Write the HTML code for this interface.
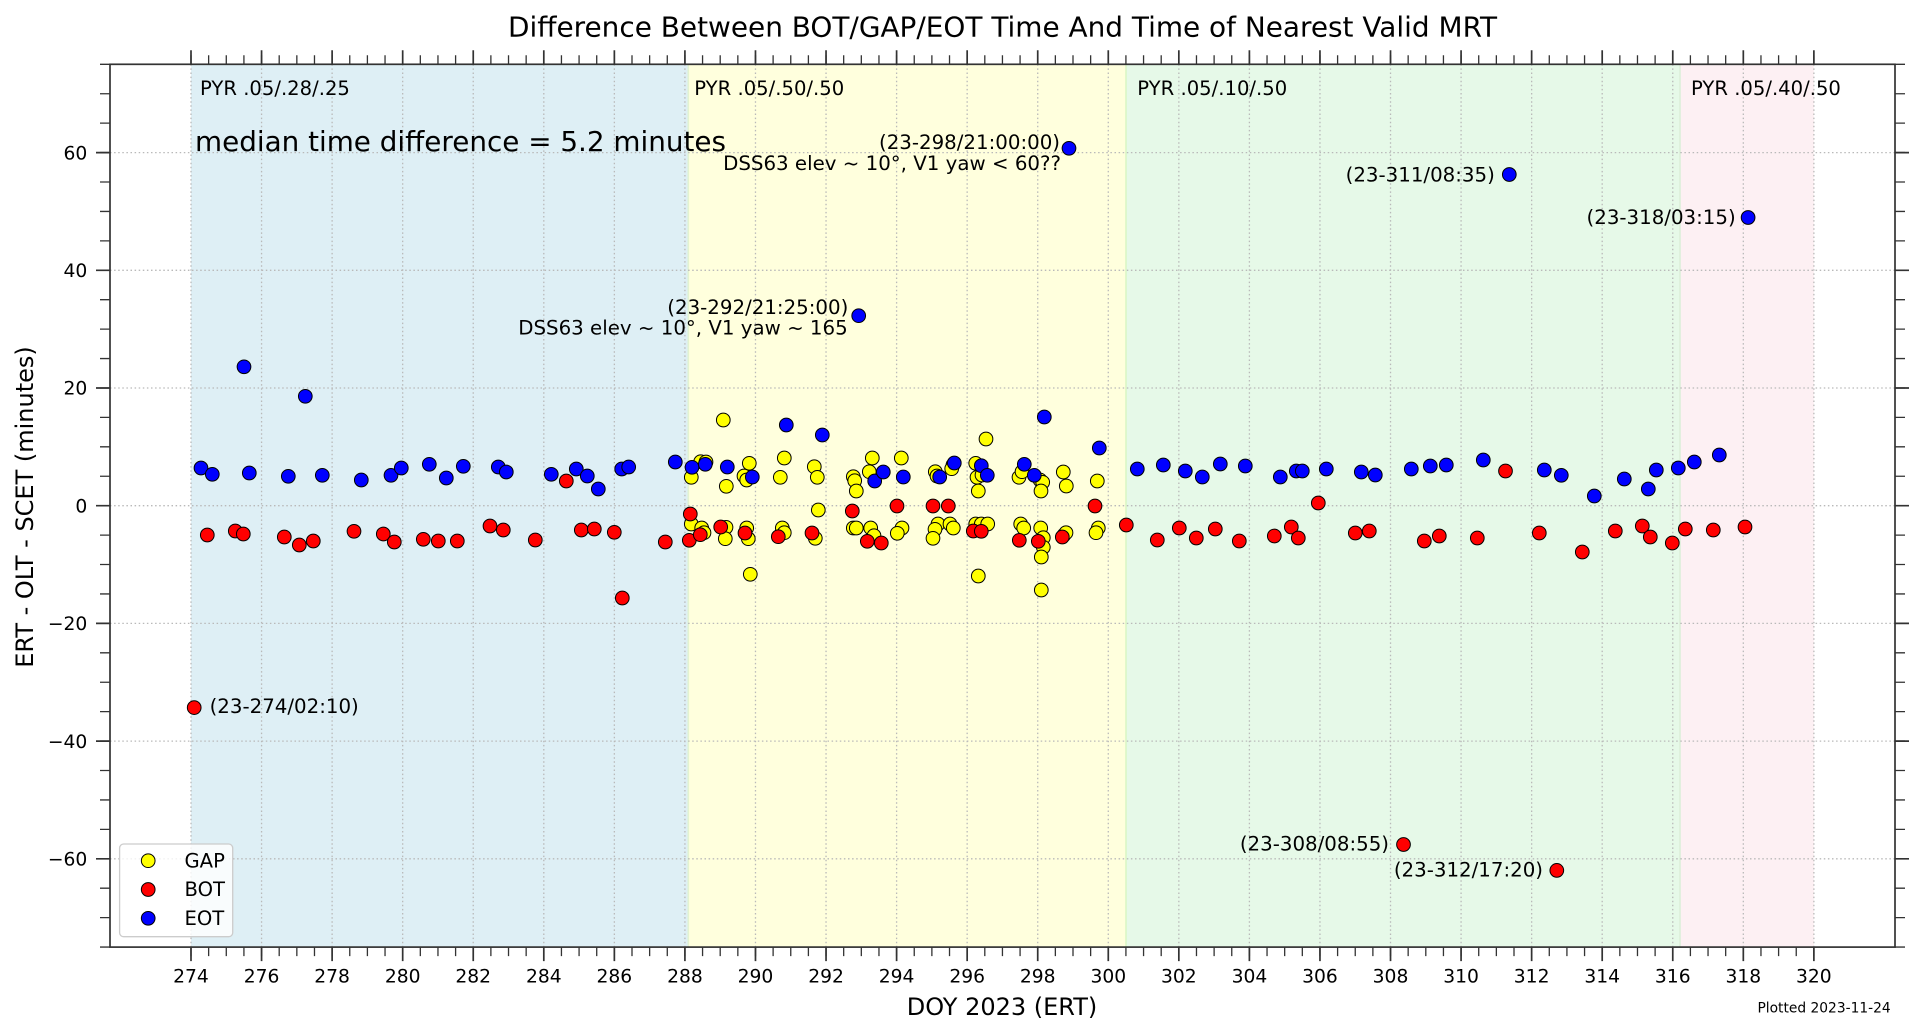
<!DOCTYPE html>
<html>
<head>
<meta charset="utf-8">
<style>
html,body{margin:0;padding:0;background:#fff;}
svg{display:block;}
text{font-family:"DejaVu Sans","Liberation Sans",sans-serif;fill:#000;}
</style>
</head>
<body>
<svg width="1923" height="1033" viewBox="0 0 1923 1033" xmlns="http://www.w3.org/2000/svg">
<rect x="0" y="0" width="1923" height="1033" fill="#fff"/>

<!-- spans -->
<rect x="191" y="64.3" width="497.3" height="882.8" fill="#deeff5"/>
<rect x="688.3" y="64.3" width="437.7" height="882.8" fill="#ffffdd"/>
<rect x="1126" y="64.3" width="554" height="882.8" fill="#e6f9e8"/>
<rect x="1680" y="64.3" width="133.9" height="882.8" fill="#fdf0f3"/>
<line x1="688.3" y1="64.3" x2="688.3" y2="947.1" stroke="#e2f3d2" stroke-width="1.6"/>
<line x1="1126" y1="64.3" x2="1126" y2="947.1" stroke="#daf6c6" stroke-width="1.6"/>
<line x1="1680" y1="64.3" x2="1680" y2="947.1" stroke="#dcefd9" stroke-width="1.6"/>

<!-- grid -->
<g stroke="#b9b9b9" stroke-width="1.3" stroke-dasharray="1.5 2.6" fill="none">
<line x1="191" y1="64.3" x2="191" y2="947.1"/>
<line x1="261.56" y1="64.3" x2="261.56" y2="947.1"/>
<line x1="332.12" y1="64.3" x2="332.12" y2="947.1"/>
<line x1="402.68" y1="64.3" x2="402.68" y2="947.1"/>
<line x1="473.24" y1="64.3" x2="473.24" y2="947.1"/>
<line x1="543.8" y1="64.3" x2="543.8" y2="947.1"/>
<line x1="614.36" y1="64.3" x2="614.36" y2="947.1"/>
<line x1="684.92" y1="64.3" x2="684.92" y2="947.1"/>
<line x1="755.48" y1="64.3" x2="755.48" y2="947.1"/>
<line x1="826.04" y1="64.3" x2="826.04" y2="947.1"/>
<line x1="896.6" y1="64.3" x2="896.6" y2="947.1"/>
<line x1="967.16" y1="64.3" x2="967.16" y2="947.1"/>
<line x1="1037.72" y1="64.3" x2="1037.72" y2="947.1"/>
<line x1="1108.28" y1="64.3" x2="1108.28" y2="947.1"/>
<line x1="1178.84" y1="64.3" x2="1178.84" y2="947.1"/>
<line x1="1249.4" y1="64.3" x2="1249.4" y2="947.1"/>
<line x1="1319.96" y1="64.3" x2="1319.96" y2="947.1"/>
<line x1="1390.52" y1="64.3" x2="1390.52" y2="947.1"/>
<line x1="1461.08" y1="64.3" x2="1461.08" y2="947.1"/>
<line x1="1531.64" y1="64.3" x2="1531.64" y2="947.1"/>
<line x1="1602.2" y1="64.3" x2="1602.2" y2="947.1"/>
<line x1="1672.76" y1="64.3" x2="1672.76" y2="947.1"/>
<line x1="1743.32" y1="64.3" x2="1743.32" y2="947.1"/>
<line x1="1813.88" y1="64.3" x2="1813.88" y2="947.1"/>
<line x1="110" y1="152.6" x2="1895" y2="152.6"/>
<line x1="110" y1="270.3" x2="1895" y2="270.3"/>
<line x1="110" y1="388" x2="1895" y2="388"/>
<line x1="110" y1="505.7" x2="1895" y2="505.7"/>
<line x1="110" y1="623.4" x2="1895" y2="623.4"/>
<line x1="110" y1="741.1" x2="1895" y2="741.1"/>
<line x1="110" y1="858.8" x2="1895" y2="858.8"/>
</g>

<!-- span labels -->
<g font-size="19.6">
<text x="200" y="95">PYR .05/.28/.25</text>
<text x="694.3" y="95">PYR .05/.50/.50</text>
<text x="1137.3" y="95">PYR .05/.10/.50</text>
<text x="1691" y="95">PYR .05/.40/.50</text>
</g>
<text x="195" y="151" font-size="27.7" textLength="531" lengthAdjust="spacingAndGlyphs">median time difference = 5.2 minutes</text>

<!-- GAP (yellow) -->
<g fill="#ffff00" stroke="#000" stroke-width="1">
<circle cx="723.3" cy="420" r="6.85"/>
<circle cx="691.3" cy="477.3" r="6.85"/>
<circle cx="700.7" cy="461.7" r="6.85"/>
<circle cx="706" cy="462" r="6.85"/>
<circle cx="726.3" cy="486.3" r="6.85"/>
<circle cx="749.3" cy="463.3" r="6.85"/>
<circle cx="744" cy="476" r="6.85"/>
<circle cx="746.7" cy="480" r="6.85"/>
<circle cx="784.3" cy="458" r="6.85"/>
<circle cx="780.3" cy="477.3" r="6.85"/>
<circle cx="814.3" cy="466.7" r="6.85"/>
<circle cx="817.3" cy="477.3" r="6.85"/>
<circle cx="818.3" cy="510" r="6.85"/>
<circle cx="853.3" cy="476.7" r="6.85"/>
<circle cx="854.7" cy="480.7" r="6.85"/>
<circle cx="856.3" cy="491" r="6.85"/>
<circle cx="872.3" cy="458" r="6.85"/>
<circle cx="869.3" cy="471.7" r="6.85"/>
<circle cx="901.3" cy="458" r="6.85"/>
<circle cx="935.3" cy="471.7" r="6.85"/>
<circle cx="937" cy="476" r="6.85"/>
<circle cx="953" cy="465" r="6.85"/>
<circle cx="951.7" cy="468.7" r="6.85"/>
<circle cx="975.7" cy="463.3" r="6.85"/>
<circle cx="986" cy="439" r="6.85"/>
<circle cx="977" cy="477.3" r="6.85"/>
<circle cx="982" cy="475" r="6.85"/>
<circle cx="978.3" cy="491" r="6.85"/>
<circle cx="1019" cy="477.3" r="6.85"/>
<circle cx="1022" cy="471.7" r="6.85"/>
<circle cx="1040" cy="480" r="6.85"/>
<circle cx="1042.7" cy="482.3" r="6.85"/>
<circle cx="1041" cy="491" r="6.85"/>
<circle cx="1063.3" cy="472" r="6.85"/>
<circle cx="1066.3" cy="486" r="6.85"/>
<circle cx="1097.3" cy="481" r="6.85"/>
<circle cx="691.3" cy="524" r="6.85"/>
<circle cx="701.7" cy="528" r="6.85"/>
<circle cx="704" cy="532.7" r="6.85"/>
<circle cx="726" cy="527.3" r="6.85"/>
<circle cx="725.3" cy="538.7" r="6.85"/>
<circle cx="746.7" cy="528" r="6.85"/>
<circle cx="748.3" cy="538.7" r="6.85"/>
<circle cx="750.3" cy="574.3" r="6.85"/>
<circle cx="782.3" cy="528" r="6.85"/>
<circle cx="784.3" cy="532.7" r="6.85"/>
<circle cx="815.3" cy="538.3" r="6.85"/>
<circle cx="853.3" cy="528" r="6.85"/>
<circle cx="856.3" cy="528" r="6.85"/>
<circle cx="870.7" cy="528" r="6.85"/>
<circle cx="874" cy="535.7" r="6.85"/>
<circle cx="902" cy="528" r="6.85"/>
<circle cx="897.3" cy="533.3" r="6.85"/>
<circle cx="938" cy="524" r="6.85"/>
<circle cx="935" cy="529.3" r="6.85"/>
<circle cx="933" cy="538.3" r="6.85"/>
<circle cx="950" cy="524" r="6.85"/>
<circle cx="953.3" cy="528" r="6.85"/>
<circle cx="975.7" cy="524" r="6.85"/>
<circle cx="981.3" cy="524" r="6.85"/>
<circle cx="987.7" cy="524" r="6.85"/>
<circle cx="978.3" cy="576" r="6.85"/>
<circle cx="1020.7" cy="524" r="6.85"/>
<circle cx="1023.7" cy="528" r="6.85"/>
<circle cx="1040.7" cy="528" r="6.85"/>
<circle cx="1043.3" cy="537.7" r="6.85"/>
<circle cx="1043.3" cy="547.3" r="6.85"/>
<circle cx="1041.3" cy="557" r="6.85"/>
<circle cx="1041.3" cy="590" r="6.85"/>
<circle cx="1064" cy="535" r="6.85"/>
<circle cx="1066" cy="532.7" r="6.85"/>
<circle cx="1098.3" cy="528" r="6.85"/>
<circle cx="1096" cy="532.7" r="6.85"/>
</g>

<!-- BOT (red) -->
<g fill="#ff0000" stroke="#000" stroke-width="1">
<circle cx="194.2" cy="707.6" r="6.85"/>
<circle cx="207.3" cy="535" r="6.85"/>
<circle cx="235.3" cy="531" r="6.85"/>
<circle cx="243.3" cy="534" r="6.85"/>
<circle cx="284.3" cy="537" r="6.85"/>
<circle cx="299.3" cy="545" r="6.85"/>
<circle cx="313.3" cy="541" r="6.85"/>
<circle cx="354" cy="531.3" r="6.85"/>
<circle cx="383.3" cy="534" r="6.85"/>
<circle cx="394.3" cy="542" r="6.85"/>
<circle cx="423.3" cy="539.3" r="6.85"/>
<circle cx="438.3" cy="541" r="6.85"/>
<circle cx="457.3" cy="541" r="6.85"/>
<circle cx="490" cy="526" r="6.85"/>
<circle cx="503.3" cy="530" r="6.85"/>
<circle cx="535.3" cy="540" r="6.85"/>
<circle cx="566.3" cy="481" r="6.85"/>
<circle cx="581.3" cy="530" r="6.85"/>
<circle cx="594.3" cy="529" r="6.85"/>
<circle cx="614.3" cy="532.3" r="6.85"/>
<circle cx="622.3" cy="598" r="6.85"/>
<circle cx="665.3" cy="542" r="6.85"/>
<circle cx="689.3" cy="540.3" r="6.85"/>
<circle cx="690.3" cy="514" r="6.85"/>
<circle cx="700.3" cy="534.7" r="6.85"/>
<circle cx="720.7" cy="527" r="6.85"/>
<circle cx="745" cy="533" r="6.85"/>
<circle cx="778.3" cy="536.7" r="6.85"/>
<circle cx="812" cy="533" r="6.85"/>
<circle cx="852.3" cy="511" r="6.85"/>
<circle cx="867.3" cy="541.3" r="6.85"/>
<circle cx="881.3" cy="543" r="6.85"/>
<circle cx="897" cy="506" r="6.85"/>
<circle cx="933" cy="506" r="6.85"/>
<circle cx="948.3" cy="506" r="6.85"/>
<circle cx="973.3" cy="531" r="6.85"/>
<circle cx="981.3" cy="531.3" r="6.85"/>
<circle cx="1019.3" cy="540.3" r="6.85"/>
<circle cx="1038.3" cy="541.3" r="6.85"/>
<circle cx="1062.3" cy="537" r="6.85"/>
<circle cx="1095" cy="506" r="6.85"/>
<circle cx="1126.3" cy="525" r="6.85"/>
<circle cx="1157.3" cy="540" r="6.85"/>
<circle cx="1179.3" cy="528" r="6.85"/>
<circle cx="1196.3" cy="538" r="6.85"/>
<circle cx="1215.3" cy="529" r="6.85"/>
<circle cx="1239.3" cy="541" r="6.85"/>
<circle cx="1274.3" cy="536" r="6.85"/>
<circle cx="1291.3" cy="527" r="6.85"/>
<circle cx="1298.3" cy="538" r="6.85"/>
<circle cx="1318.3" cy="503" r="6.85"/>
<circle cx="1355.3" cy="533" r="6.85"/>
<circle cx="1369.3" cy="531" r="6.85"/>
<circle cx="1403.5" cy="844.5" r="6.85"/>
<circle cx="1424.3" cy="541" r="6.85"/>
<circle cx="1439.3" cy="536" r="6.85"/>
<circle cx="1477.3" cy="538" r="6.85"/>
<circle cx="1505.5" cy="471" r="6.85"/>
<circle cx="1539.3" cy="533" r="6.85"/>
<circle cx="1556.8" cy="870.4" r="6.85"/>
<circle cx="1582.3" cy="552" r="6.85"/>
<circle cx="1615.3" cy="531" r="6.85"/>
<circle cx="1642.3" cy="526" r="6.85"/>
<circle cx="1650.3" cy="537" r="6.85"/>
<circle cx="1672.3" cy="543" r="6.85"/>
<circle cx="1685.3" cy="529" r="6.85"/>
<circle cx="1713.3" cy="530" r="6.85"/>
<circle cx="1745" cy="527" r="6.85"/>
</g>

<!-- EOT (blue) -->
<g fill="#0000ff" stroke="#000" stroke-width="1">
<circle cx="201" cy="468" r="6.85"/>
<circle cx="212.3" cy="474.3" r="6.85"/>
<circle cx="244" cy="366.8" r="6.85"/>
<circle cx="249.3" cy="473" r="6.85"/>
<circle cx="288.3" cy="476.3" r="6.85"/>
<circle cx="305.3" cy="396.3" r="6.85"/>
<circle cx="322.3" cy="475.3" r="6.85"/>
<circle cx="361.3" cy="480" r="6.85"/>
<circle cx="391" cy="475.3" r="6.85"/>
<circle cx="401.3" cy="468" r="6.85"/>
<circle cx="429.3" cy="464.3" r="6.85"/>
<circle cx="446.3" cy="478" r="6.85"/>
<circle cx="463.3" cy="466.3" r="6.85"/>
<circle cx="498.3" cy="467" r="6.85"/>
<circle cx="506.3" cy="472" r="6.85"/>
<circle cx="551.3" cy="474.3" r="6.85"/>
<circle cx="576.3" cy="469" r="6.85"/>
<circle cx="587.3" cy="476" r="6.85"/>
<circle cx="598.3" cy="489" r="6.85"/>
<circle cx="621.7" cy="469" r="6.85"/>
<circle cx="628.7" cy="467" r="6.85"/>
<circle cx="675.3" cy="462" r="6.85"/>
<circle cx="692" cy="467.3" r="6.85"/>
<circle cx="705.3" cy="464.3" r="6.85"/>
<circle cx="727.3" cy="467" r="6.85"/>
<circle cx="752.3" cy="477" r="6.85"/>
<circle cx="786.3" cy="425" r="6.85"/>
<circle cx="822.3" cy="435" r="6.85"/>
<circle cx="858.7" cy="315.7" r="6.85"/>
<circle cx="874.7" cy="481" r="6.85"/>
<circle cx="883.3" cy="472" r="6.85"/>
<circle cx="903.3" cy="477" r="6.85"/>
<circle cx="939.7" cy="477" r="6.85"/>
<circle cx="954.3" cy="463" r="6.85"/>
<circle cx="981.3" cy="465.7" r="6.85"/>
<circle cx="987.3" cy="475.3" r="6.85"/>
<circle cx="1024.3" cy="464.3" r="6.85"/>
<circle cx="1034.3" cy="475.3" r="6.85"/>
<circle cx="1044.3" cy="417" r="6.85"/>
<circle cx="1069" cy="148.3" r="6.85"/>
<circle cx="1099.3" cy="448" r="6.85"/>
<circle cx="1137.3" cy="469" r="6.85"/>
<circle cx="1163.3" cy="465" r="6.85"/>
<circle cx="1185.3" cy="471" r="6.85"/>
<circle cx="1202.3" cy="477" r="6.85"/>
<circle cx="1220.3" cy="464" r="6.85"/>
<circle cx="1245.3" cy="466" r="6.85"/>
<circle cx="1280.3" cy="477" r="6.85"/>
<circle cx="1296.3" cy="471" r="6.85"/>
<circle cx="1302.3" cy="471" r="6.85"/>
<circle cx="1326.3" cy="469" r="6.85"/>
<circle cx="1361.3" cy="472" r="6.85"/>
<circle cx="1375.3" cy="475" r="6.85"/>
<circle cx="1411.3" cy="469" r="6.85"/>
<circle cx="1430.3" cy="466" r="6.85"/>
<circle cx="1446.3" cy="465" r="6.85"/>
<circle cx="1483.3" cy="460" r="6.85"/>
<circle cx="1509.3" cy="174.5" r="6.85"/>
<circle cx="1544.3" cy="470" r="6.85"/>
<circle cx="1561.3" cy="475.3" r="6.85"/>
<circle cx="1594.3" cy="496" r="6.85"/>
<circle cx="1624.3" cy="479" r="6.85"/>
<circle cx="1648.3" cy="489" r="6.85"/>
<circle cx="1656.3" cy="470" r="6.85"/>
<circle cx="1678.3" cy="468" r="6.85"/>
<circle cx="1694.3" cy="462" r="6.85"/>
<circle cx="1719.3" cy="455" r="6.85"/>
<circle cx="1748.1" cy="217.5" r="6.85"/>
</g>

<!-- annotations -->
<g font-size="19.8">
<text x="209.6" y="713">(23-274/02:10)</text>
<text x="848.3" y="314" text-anchor="end">(23-292/21:25:00)</text>
<text x="847.7" y="334.3" text-anchor="end">DSS63 elev ~ 10°, V1 yaw ~ 165</text>
<text x="1060" y="149" text-anchor="end">(23-298/21:00:00)</text>
<text x="1061" y="170" text-anchor="end">DSS63 elev ~ 10°, V1 yaw &lt; 60??</text>
<text x="1494.8" y="181.5" text-anchor="end">(23-311/08:35)</text>
<text x="1735.7" y="224" text-anchor="end">(23-318/03:15)</text>
<text x="1389" y="850.5" text-anchor="end">(23-308/08:55)</text>
<text x="1543" y="876.5" text-anchor="end">(23-312/17:20)</text>
</g>

<!-- legend -->
<rect x="119.6" y="844" width="113.1" height="92.7" rx="4" ry="4" fill="#ffffff" fill-opacity="0.8" stroke="#cccccc" stroke-width="1.3"/>
<circle cx="148.2" cy="860.7" r="6.85" fill="#ffff00" stroke="#000" stroke-width="1"/>
<circle cx="148.2" cy="889.5" r="6.85" fill="#ff0000" stroke="#000" stroke-width="1"/>
<circle cx="148.2" cy="918.3" r="6.85" fill="#0000ff" stroke="#000" stroke-width="1"/>
<g font-size="19.6">
<text x="184.5" y="867.3">GAP</text>
<text x="184.5" y="896">BOT</text>
<text x="184.5" y="924.8">EOT</text>
</g>

<!-- ticks via dash patterns -->
<g stroke="#333" fill="none">
<line x1="190.15" y1="954.1" x2="1816" y2="954.1" stroke-width="14" stroke-dasharray="1.7 68.86"/>
<line x1="190.35" y1="951.6" x2="1816" y2="951.6" stroke-width="9" stroke-dasharray="1.3 16.34"/>
<line x1="190.15" y1="57.3" x2="1816" y2="57.3" stroke-width="14" stroke-dasharray="1.7 68.86"/>
<line x1="190.35" y1="59.8" x2="1816" y2="59.8" stroke-width="9" stroke-dasharray="1.3 16.34"/>
<line x1="103" y1="151.75" x2="103" y2="862" stroke-width="14" stroke-dasharray="1.7 116" />
<line x1="105" y1="63.65" x2="105" y2="950" stroke-width="10" stroke-dasharray="1.3 28.125"/>
<line x1="1902" y1="151.75" x2="1902" y2="862" stroke-width="14" stroke-dasharray="1.7 116"/>
<line x1="1900" y1="63.65" x2="1900" y2="950" stroke-width="10" stroke-dasharray="1.3 28.125"/>
</g>

<!-- spines -->
<rect x="110" y="64.3" width="1785" height="882.8" fill="none" stroke="#333" stroke-width="1.7"/>

<!-- x tick labels -->
<g font-size="18.7" text-anchor="middle">
<text x="191" y="982.7">274</text>
<text x="261.56" y="982.7">276</text>
<text x="332.12" y="982.7">278</text>
<text x="402.68" y="982.7">280</text>
<text x="473.24" y="982.7">282</text>
<text x="543.8" y="982.7">284</text>
<text x="614.36" y="982.7">286</text>
<text x="684.92" y="982.7">288</text>
<text x="755.48" y="982.7">290</text>
<text x="826.04" y="982.7">292</text>
<text x="896.6" y="982.7">294</text>
<text x="967.16" y="982.7">296</text>
<text x="1037.72" y="982.7">298</text>
<text x="1108.28" y="982.7">300</text>
<text x="1178.84" y="982.7">302</text>
<text x="1249.4" y="982.7">304</text>
<text x="1319.96" y="982.7">306</text>
<text x="1390.52" y="982.7">308</text>
<text x="1461.08" y="982.7">310</text>
<text x="1531.64" y="982.7">312</text>
<text x="1602.2" y="982.7">314</text>
<text x="1672.76" y="982.7">316</text>
<text x="1743.32" y="982.7">318</text>
<text x="1813.88" y="982.7">320</text>
</g>

<!-- y tick labels -->
<g font-size="18.7" text-anchor="end">
<text x="87.3" y="159.3">60</text>
<text x="87.3" y="277">40</text>
<text x="87.3" y="394.7">20</text>
<text x="87.3" y="512.4">0</text>
<text x="87.3" y="630.1">−20</text>
<text x="87.3" y="747.8">−40</text>
<text x="87.3" y="865.5">−60</text>
</g>

<!-- titles / labels -->
<text x="1002.5" y="36.7" font-size="27.6" text-anchor="middle" textLength="989" lengthAdjust="spacingAndGlyphs">Difference Between BOT/GAP/EOT Time And Time of Nearest Valid MRT</text>
<text x="1002" y="1015" font-size="24" text-anchor="middle">DOY 2023 (ERT)</text>
<text transform="translate(33,507) rotate(-90)" font-size="24" text-anchor="middle">ERT - OLT - SCET (minutes)</text>
<text x="1890.7" y="1012.3" font-size="13.8" text-anchor="end">Plotted 2023-11-24</text>
</svg>
</body>
</html>
